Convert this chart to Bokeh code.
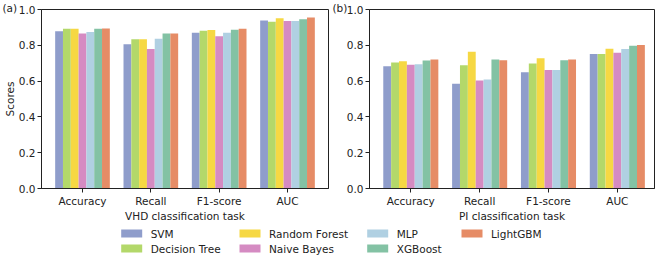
import numpy as np
from bokeh.plotting import figure
from bokeh.layouts import column, row
from bokeh.models import FixedTicker, PrintfTickFormatter, Range1d
from bokeh.core.properties import value
from bokeh.embed import file_html
from bokeh.resources import INLINE

# Evaluation metrics (x-axis categories)
metrics = ["Accuracy", "Recall", "F1-score", "AUC"]

# Classifiers and their bar colours
models = ["SVM", "Decision Tree", "Random Forest", "Naive Bayes", "MLP", "XGBoost", "LightGBM"]
colors = ["#8f9dcb", "#b3d86a", "#f6d843", "#d58bc2", "#b0d0e2", "#83c2a4", "#e68c66"]

# Scores per classifier, ordered as in `metrics`
vhd_svm = [0.879, 0.806, 0.870, 0.938]
vhd_dt = [0.892, 0.834, 0.881, 0.932]
vhd_rf = [0.892, 0.834, 0.885, 0.951]
vhd_nb = [0.866, 0.779, 0.851, 0.936]
vhd_mlp = [0.874, 0.836, 0.870, 0.936]
vhd_xgb = [0.892, 0.866, 0.887, 0.945]
vhd_lgbm = [0.894, 0.866, 0.892, 0.955]

pi_svm = [0.683, 0.585, 0.649, 0.751]
pi_dt = [0.704, 0.688, 0.698, 0.751]
pi_rf = [0.711, 0.764, 0.728, 0.781]
pi_nb = [0.692, 0.603, 0.662, 0.758]
pi_mlp = [0.694, 0.609, 0.662, 0.779]
pi_xgb = [0.715, 0.721, 0.717, 0.798]
pi_lgbm = [0.721, 0.717, 0.721, 0.802]

vhd_scores = [vhd_svm, vhd_dt, vhd_rf, vhd_nb, vhd_mlp, vhd_xgb, vhd_lgbm]
pi_scores = [pi_svm, pi_dt, pi_rf, pi_nb, pi_mlp, pi_xgb, pi_lgbm]

panel_tags = ["(a)", "(b)"]
y_ticks = [0.0, 0.2, 0.4, 0.6, 0.8, 1.0]

FONT = "DejaVu Sans"
FSIZE = "10.5px"
INK = "#222222"


def panel(scores, xlabel, x_end, frame_w, right_border, ylabel):
    p = figure(width=39 + frame_w + right_border, height=224,
               x_range=Range1d(-0.6, x_end), y_range=Range1d(0, 1.0),
               output_backend="svg", toolbar_location=None,
               min_border_left=39, min_border_right=right_border,
               min_border_top=9, min_border_bottom=35)
    n = len(models)
    group_w = 0.8
    bar_w = group_w / n
    base = np.arange(len(metrics))
    for i, (name, col, vals) in enumerate(zip(models, colors, scores)):
        xs = base - group_w / 2 + bar_w * (i + 0.5)
        p.vbar(x=xs, top=vals, width=bar_w, bottom=0, fill_color=col,
               line_color=None)

    p.xgrid.visible = False
    p.ygrid.visible = False
    p.outline_line_color = INK
    p.outline_line_width = 1
    p.background_fill_color = "white"
    p.border_fill_color = None

    xa = p.xaxis[0]
    xa.ticker = FixedTicker(ticks=list(range(len(metrics))))
    xa.major_label_overrides = {i: m for i, m in enumerate(metrics)}
    xa.axis_label = xlabel

    ya = p.yaxis[0]
    ya.ticker = FixedTicker(ticks=y_ticks)
    ya.formatter = PrintfTickFormatter(format="%.1f")
    if ylabel:
        ya.axis_label = ylabel

    for ax in (xa, ya):
        ax.axis_line_color = INK
        ax.major_tick_line_color = INK
        ax.major_tick_out = 4
        ax.major_tick_in = 0
        ax.minor_tick_line_color = None
        ax.major_label_text_font = FONT
        ax.major_label_text_font_size = FSIZE
        ax.major_label_text_color = INK
        ax.axis_label_text_font = FONT
        ax.axis_label_text_font_size = FSIZE
        ax.axis_label_text_font_style = "normal"
        ax.axis_label_text_color = INK
        ax.major_label_standoff = 2
        ax.axis_label_standoff = 0
    return p


def strip(height):
    s = figure(width=660, height=height, x_range=Range1d(0, 660),
               y_range=Range1d(height, 0), output_backend="svg",
               toolbar_location=None, min_border=0, outline_line_color=None,
               background_fill_color=None, border_fill_color=None)
    s.axis.visible = False
    s.grid.visible = False
    return s


# Panel tags (a)/(b) in a thin strip that sits behind the panels' top border
tags = strip(15)
tags.text(x=[2, 332], y=[7.5, 7.5], text=panel_tags, text_font=value(FONT),
          text_font_size=value(FSIZE), text_color=INK,
          text_baseline="middle", text_align="left")

pa = panel(vhd_scores, "VHD classification task", 3.6, 289, 2, "Scores")
pb = panel(pi_scores, "PI classification task", 3.54, 285, 6, None)
panels = row(pa, pb, margin=(-15, 0, 0, 0))

# Legend strip below both panels: two rows, filled column by column
leg = strip(33)
col_x = [120.7, 239.0, 366.7, 461.0]
row_y = [9.0, 24.0]
lx, ly, lc, tx = [], [], [], []
for i, (name, col) in enumerate(zip(models, colors)):
    cx = col_x[i // 2]
    cy = row_y[i % 2]
    lx.append(cx + 10.5)
    ly.append(cy)
    lc.append(col)
    tx.append(cx + 29.5)
leg.rect(x=lx, y=ly, width=21, height=8, fill_color=lc, line_color=None)
leg.text(x=tx, y=ly, text=models, text_font=value(FONT), text_font_size=value(FSIZE),
         text_color=INK, text_baseline="middle", text_align="left")

layout = column(tags, panels, leg)
open("out.html", "w").write(file_html(layout, INLINE))
